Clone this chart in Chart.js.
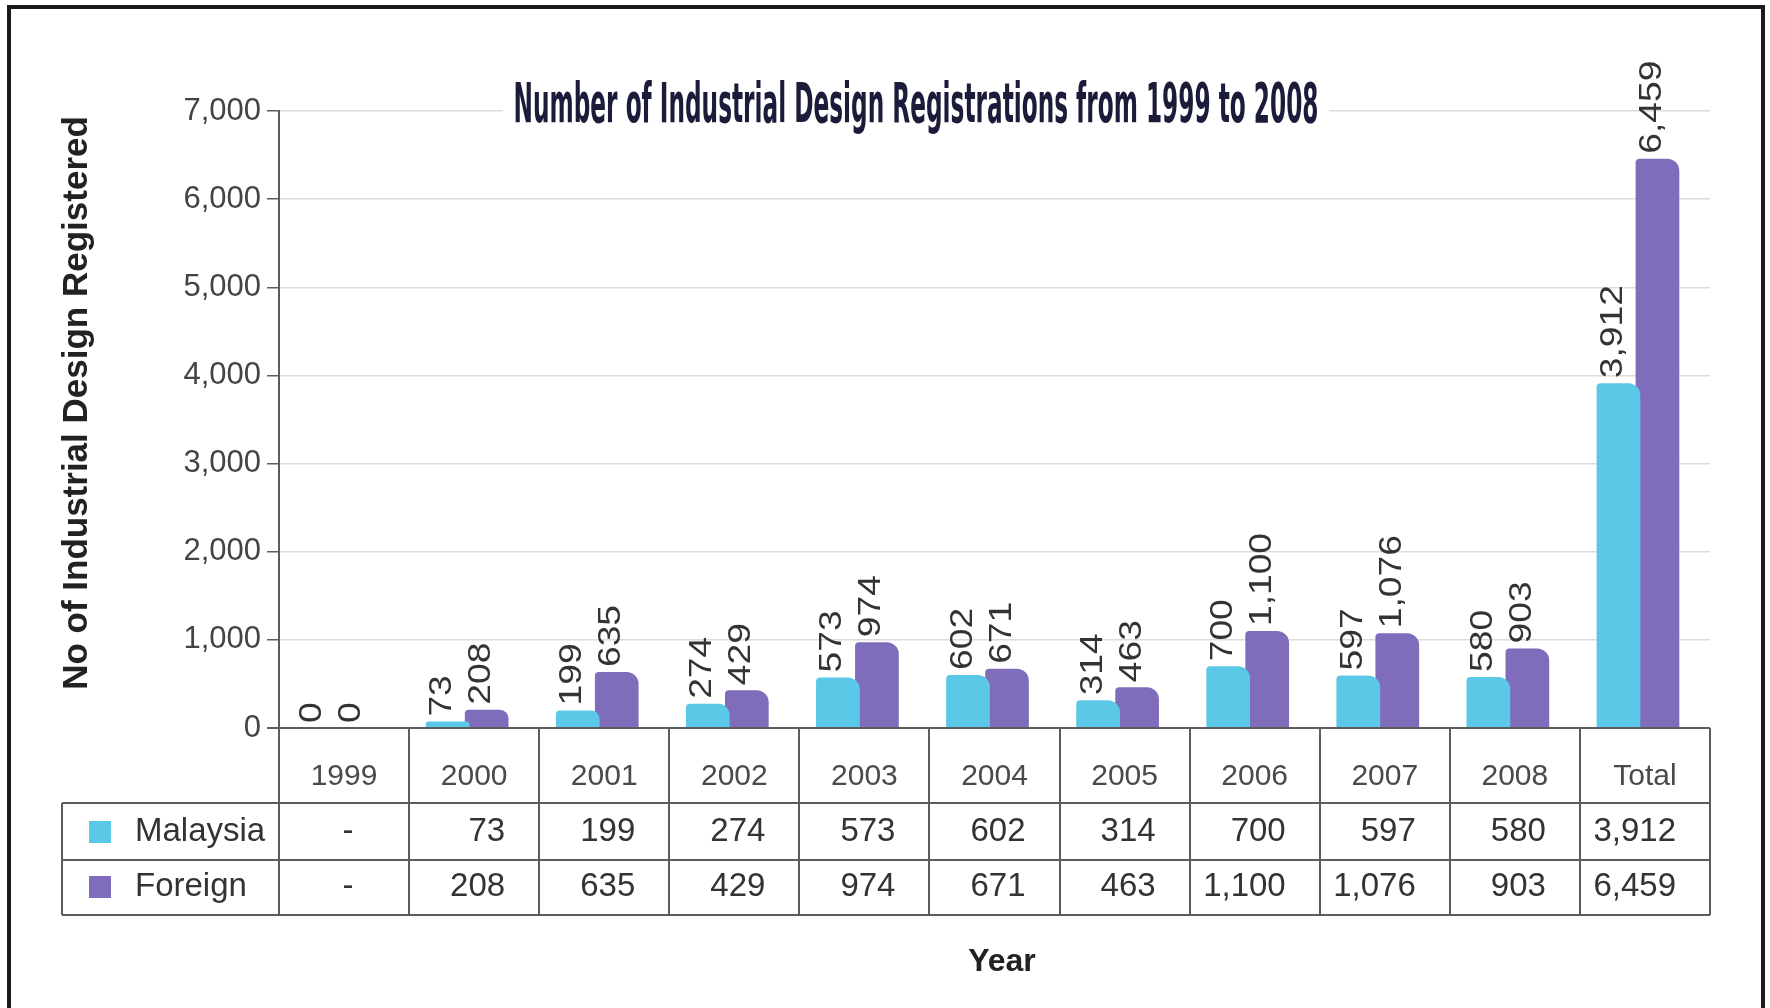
<!DOCTYPE html>
<html>
<head>
<meta charset="utf-8">
<script src="https://cdn.jsdelivr.net/npm/chart.js@4.4.1/dist/chart.umd.min.js"></script>
<style>
  html, body { margin: 0; padding: 0; background: #fff; }
  #chart { display: block; }
</style>
</head>
<body>
<canvas id="chart" width="1770" height="1008"></canvas>
<script>
const TITLE = "Number of Industrial Design Registrations from 1999 to 2008";
const Y_TITLE = "No of Industrial Design Registered";
const X_TITLE = "Year";

const years = ["1999", "2000", "2001", "2002", "2003", "2004", "2005", "2006", "2007", "2008", "Total"];
const seriesNames = ["Malaysia", "Foreign"];
const malaysia = [0, 73, 199, 274, 573, 602, 314, 700, 597, 580, 3912];
const foreign = [0, 208, 635, 429, 974, 671, 463, 1100, 1076, 903, 6459];
const seriesColors = ["#5cc8e8", "#7f6dbb"];

const FONT = '"Liberation Sans", Arial, sans-serif';
const TEXT = "#333";
const LINE = "#5c5c5c";
const BAR_SHIFT = -7; // the original's bar pairs sit a little left of the column centre

const fmt = (v) => v.toLocaleString("en-US");

const drawing = {
  id: "drawing",
  beforeDraw(chart) {
    const { ctx, width, height } = chart;
    ctx.save();
    ctx.fillStyle = "#fff";
    ctx.fillRect(0, 0, width, height);
    ctx.restore();
  },
  beforeDatasetsDraw(chart) {
    chart.ctx.save();
    chart.ctx.translate(BAR_SHIFT, 0);
  },
  afterDatasetsDraw(chart) {
    const { ctx, chartArea: a } = chart;
    ctx.restore();
    ctx.save();

    // value labels, rotated above each bar (stretched along the text like the original)
    ctx.font = `31px ${FONT}`;
    ctx.fillStyle = TEXT;
    ctx.textAlign = "left";
    ctx.textBaseline = "middle";
    chart.data.datasets.forEach((ds, i) => {
      chart.getDatasetMeta(i).data.forEach((bar, j) => {
        ctx.save();
        ctx.translate(bar.x + BAR_SHIFT - 5, bar.y - 5);
        ctx.rotate(-Math.PI / 2);
        ctx.scale(1.2, 1);
        ctx.fillText(fmt(ds.data[j]), 0, 0);
        ctx.restore();
      });
    });

    // data table under the plot
    const step = (a.right - a.left) / years.length;
    const tableLeft = 62, rowTop = 803, rowMid = 860, tableBottom = 915;
    ctx.strokeStyle = LINE;
    ctx.lineWidth = 2;
    ctx.beginPath();
    [rowTop, rowMid, tableBottom].forEach((y) => {
      ctx.moveTo(tableLeft, y);
      ctx.lineTo(a.right, y);
    });
    ctx.moveTo(tableLeft, rowTop);
    ctx.lineTo(tableLeft, tableBottom);
    for (let k = 0; k <= years.length; k++) {
      const x = Math.round(a.left + k * step);
      ctx.moveTo(x, k === 0 ? a.top : a.bottom);
      ctx.lineTo(x, tableBottom);
    }
    ctx.stroke();

    ctx.textAlign = "center";
    ctx.textBaseline = "middle";
    ctx.fillStyle = "#4a4a4a";
    ctx.font = `30px ${FONT}`;
    years.forEach((y, k) => ctx.fillText(y, a.left + (k + 0.5) * step, 777));

    ctx.font = `33px ${FONT}`;
    [malaysia, foreign].forEach((vals, r) => {
      const cy = r === 0 ? 832 : 887;
      ctx.fillStyle = TEXT;
      ctx.textAlign = "right";
      vals.forEach((v, k) => {
        if (v === 0) {
          ctx.save();
          ctx.textAlign = "center";
          ctx.fillText("-", a.left + (k + 0.5) * step + 4, cy);
          ctx.restore();
        } else {
          ctx.fillText(fmt(v), a.left + (k + 1) * step - 34, cy);
        }
      });
      ctx.fillStyle = seriesColors[r];
      ctx.fillRect(89, cy - 11, 22, 22);
      ctx.fillStyle = TEXT;
      ctx.textAlign = "left";
      ctx.fillText(seriesNames[r], 135, cy);
    });

    // axis titles
    ctx.textAlign = "center";
    ctx.fillStyle = "#222";
    ctx.font = `bold 32px ${FONT}`;
    ctx.fillText(X_TITLE, 1002, 962);
    ctx.font = `bold 35px ${FONT}`;
    ctx.save();
    ctx.translate(77, 403);
    ctx.rotate(-Math.PI / 2);
    ctx.fillText(Y_TITLE, 0, 0);
    ctx.restore();

    // chart title with white box over the grid
    ctx.fillStyle = "#fff";
    ctx.fillRect(503, 78, 826, 60);
    ctx.font = `bold 56px "Liberation Sans Narrow", "DejaVu Sans Condensed", sans-serif`;
    const w = ctx.measureText(TITLE).width;
    ctx.save();
    ctx.translate(916, 107);
    ctx.scale(805 / w, 1);
    ctx.fillStyle = "#1b1b3a";
    ctx.fillText(TITLE, 0, 0);
    ctx.restore();

    // outer frame
    ctx.strokeStyle = "#1a1a1a";
    ctx.lineWidth = 4;
    ctx.strokeRect(9, 7, 1754, 1100);
    ctx.restore();
  },
};

new Chart(document.getElementById("chart"), {
  type: "bar",
  data: {
    labels: years,
    datasets: seriesNames.map((name, i) => ({
      label: name,
      data: i === 0 ? malaysia : foreign,
      backgroundColor: seriesColors[i],
      borderRadius: { topLeft: 4, topRight: 12 },
      borderSkipped: "bottom",
      barPercentage: 1.12,
      categoryPercentage: 0.6,
    })),
  },
  options: {
    responsive: false,
    animation: false,
    devicePixelRatio: 1,
    layout: { padding: { left: 0, right: 60, top: 111, bottom: 280 } },
    plugins: { legend: { display: false }, tooltip: { enabled: false }, title: { display: false } },
    scales: {
      x: { display: false },
      y: {
        min: 0,
        max: 7000,
        afterFit: (s) => { s.width = 279; },
        ticks: {
          stepSize: 1000,
          padding: 6,
          color: "#444",
          font: { family: FONT, size: 31 },
          callback: (v) => fmt(v),
        },
        grid: {
          color: (c) => (c.tick && c.tick.value === 0 ? LINE : "#dcdcdc"),
          lineWidth: (c) => (c.tick && c.tick.value === 0 ? 2 : 1.5),
          tickColor: LINE,
          tickLength: 12,
        },
        border: { display: true, color: LINE, width: 2 },
      },
    },
  },
  plugins: [drawing],
});
</script>
</body>
</html>
